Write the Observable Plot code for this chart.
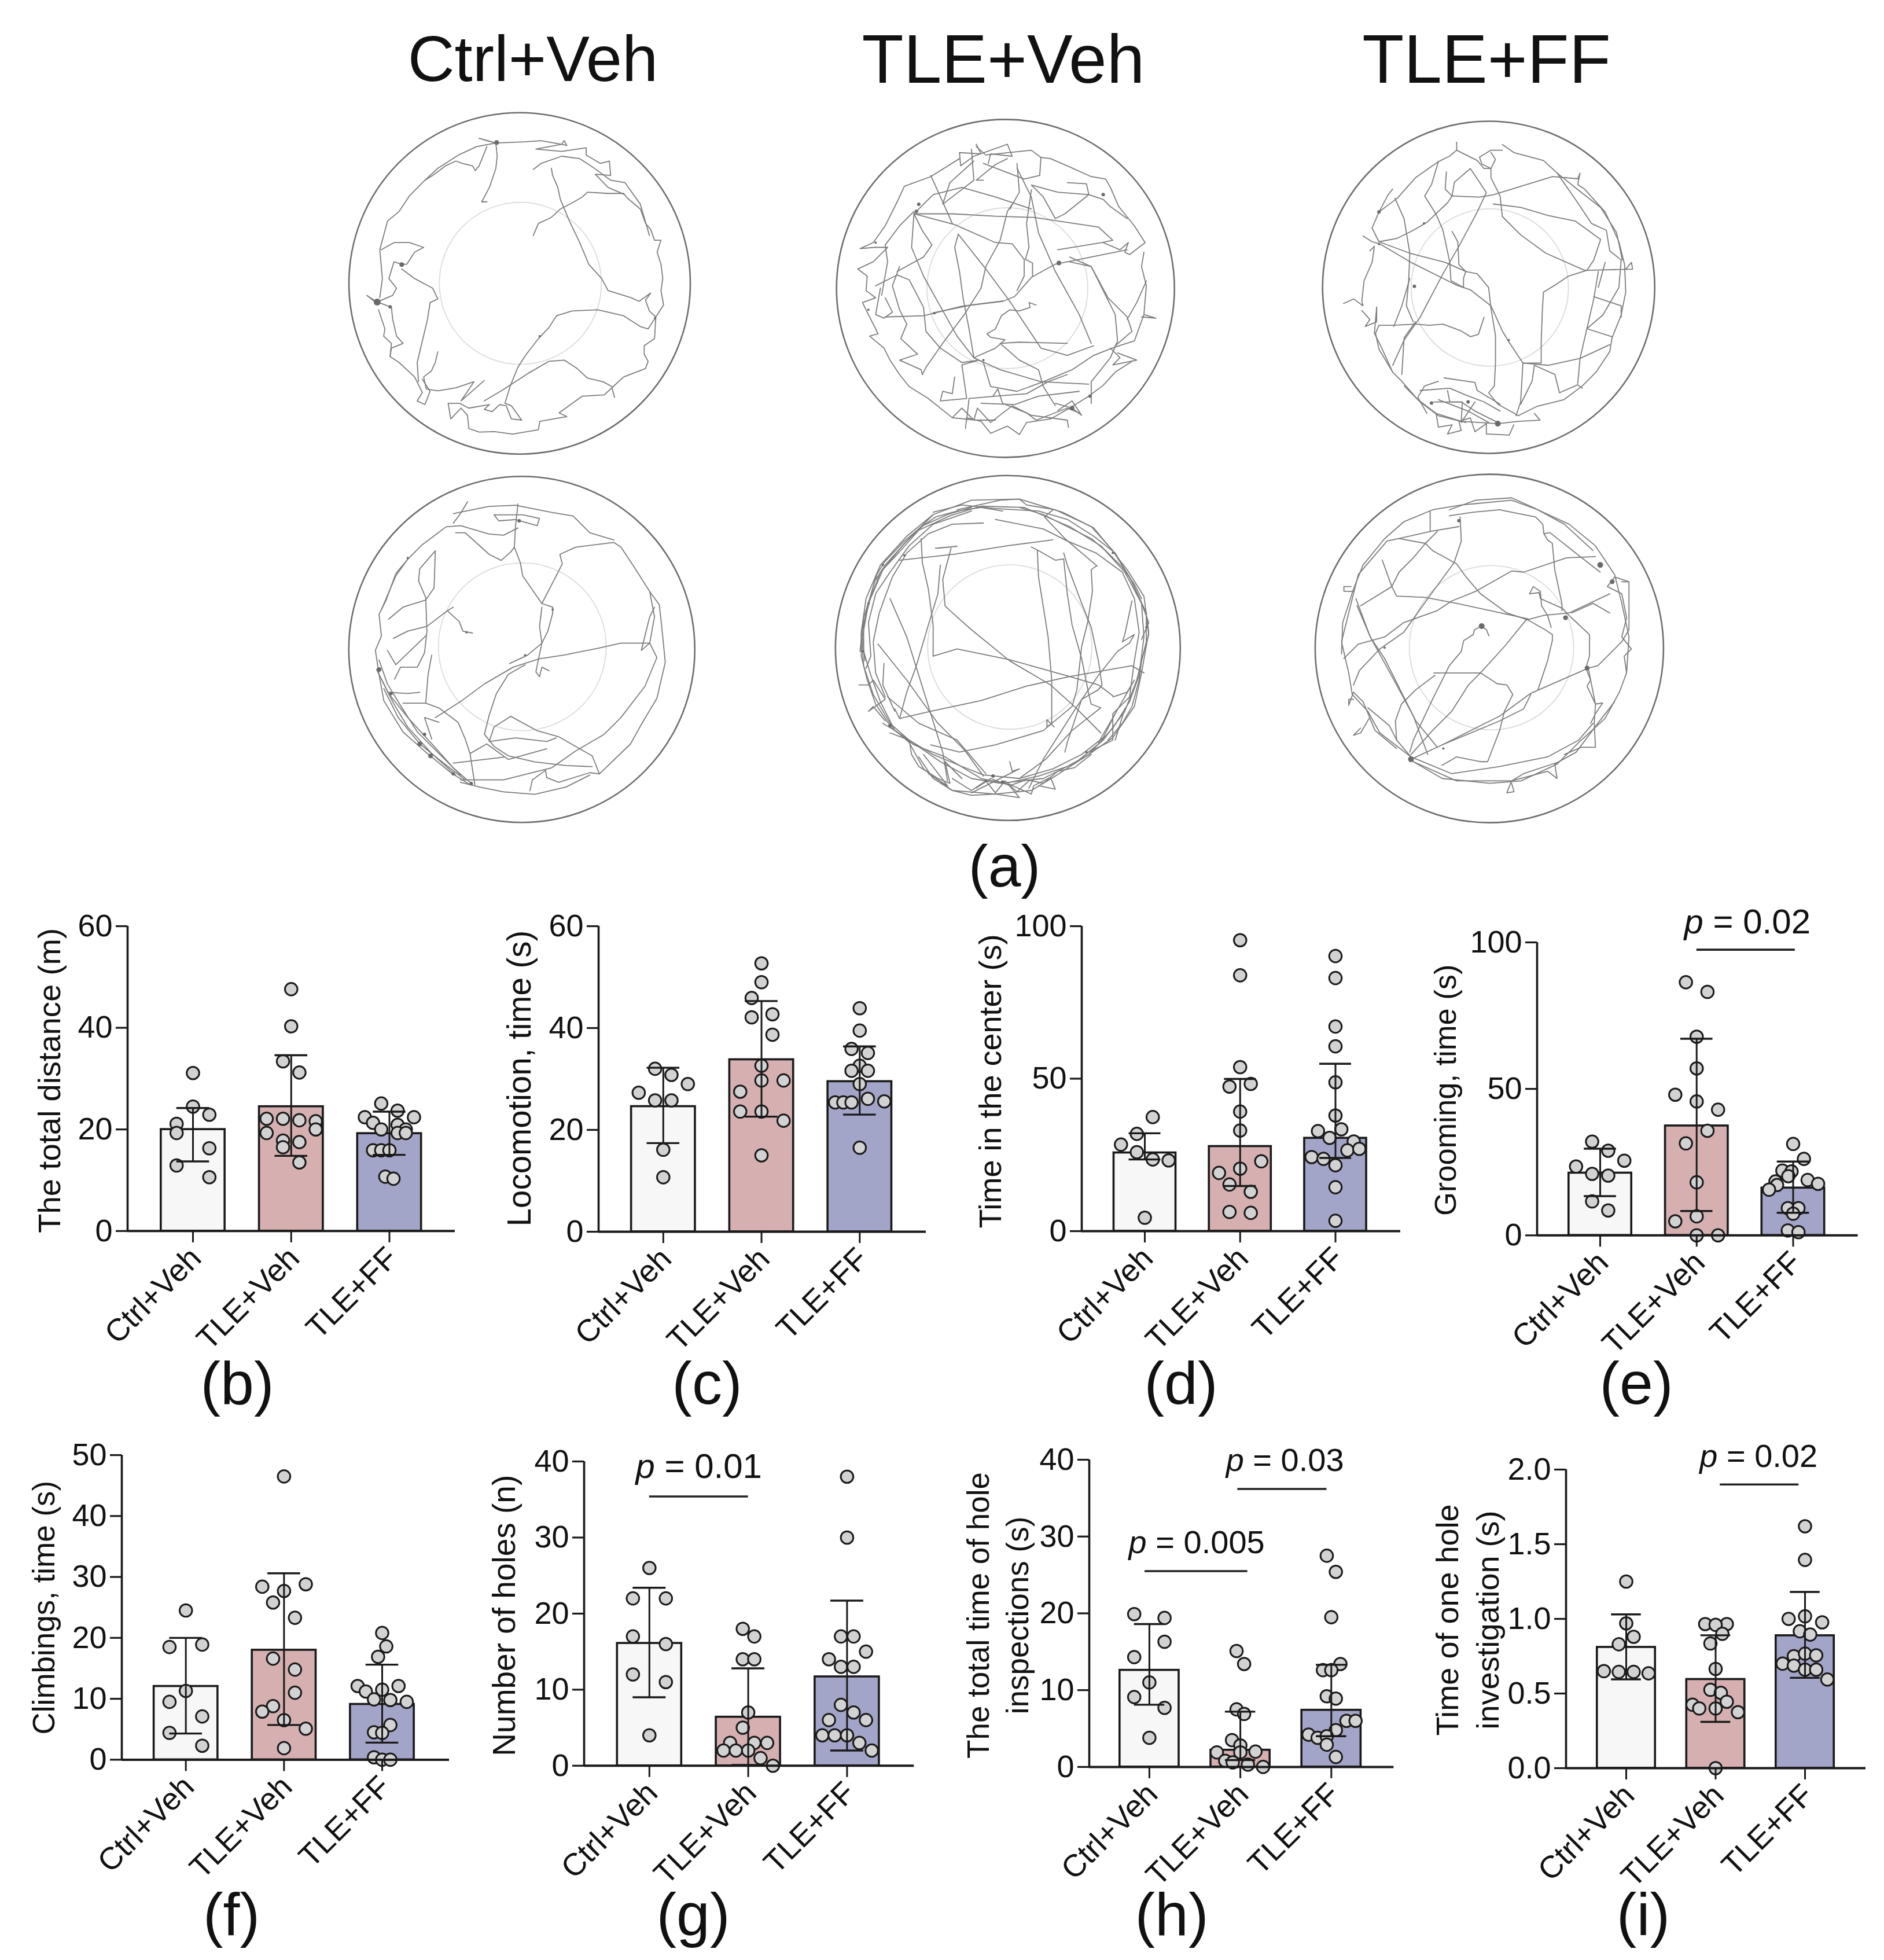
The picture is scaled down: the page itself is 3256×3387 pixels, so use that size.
<!DOCTYPE html>
<html><head><meta charset="utf-8">
<script src="https://cdn.jsdelivr.net/npm/d3@7"></script>
<script src="https://cdn.jsdelivr.net/npm/@observablehq/plot@0.6"></script>
<style>
html,body{margin:0;padding:0;background:#fff}
#fig{position:relative;width:3256px;height:3387px;overflow:hidden;font-family:"Liberation Sans",Arial,sans-serif;color:#111}
.t{position:absolute;transform:translate(-50%,-50%);white-space:nowrap;line-height:1}
</style></head><body><div id="fig"></div>
<script>
const groups = ["Ctrl+Veh","TLE+Veh","TLE+FF"];
const colors = ["#f7f7f7","#d6b0b0","#a3a5c8"];

// values: [swarm slot, value]
const bCtrl=[[0,31.1],[0,24.5],[1,22.9],[-1,21.1],[-1,19.3],[1,16.3],[-1,12.9],[1,10.6]];
const bVeh=[[0,47.6],[0,40.3],[-.5,33.4],[.5,31.2],[-1.5,22.1],[-.5,22.1],[.5,21.8],[1.5,21.6],[1.5,20],[-1.5,19.3],[-.5,17.8],[.5,17.5],[-.5,16.5],[.5,13.5]];
const bFF=[[-.5,25.1],[.5,23.7],[-1.5,22.4],[1.5,22.4],[-1,21.3],[.5,20.9],[-.5,20],[1,20],[.5,19.3],[1,19.3],[-1,15.9],[-.5,15.9],[0,15.9],[-.25,10.7],[.25,10.3]];
const bMean=[20,24.5,19.2], bHi=[24.2,34.6,23.5], bLo=[13.7,14.8,15];

const cCtrl=[[-.5,32],[.5,30.8],[1.5,29],[-1.5,27.3],[-.5,25.8],[.5,25.8],[0,16.1],[0,10.7]];
const cVeh=[[0,52.7],[0,49],[-.6,45.9],[-.6,42.1],[.67,42.7],[.67,38.7],[0,32.6],[0,29.7],[1.35,29.7],[-1.3,27.5],[-1.3,23.6],[0,23.6],[1.35,21.8],[0,15]];
const cFF=[[0,43.9],[0,39.5],[-.5,35.9],[.5,35.1],[0,32.6],[-.5,31.6],[.5,31.6],[0,29],[-1.5,25.4],[-1,25.4],[-.5,25.4],[.5,26.1],[1.5,25.6],[0,16.5]];
const cMean=[24.6,33.8,29.5], cHi=[32.2,45.3,36.4], cLo=[17.4,22.6,23];

const dCtrl=[[.5,37.4],[-.5,31.9],[-1.5,28.4],[-.5,25.9],[.5,23.5],[1.5,23.2],[0,4.4]];
const dVeh=[[0,95.4],[0,83.9],[0,53.8],[.67,48.3],[-.67,47.4],[0,39.2],[0,33],[1.33,22.9],[0,20.5],[-1.33,19.1],[-.67,15.3],[.67,12.9],[-.67,6.3],[.67,6]];
const dFF=[[0,90.2],[0,83],[0,67.1],[0,60.6],[0,48.8],[0,37.9],[.37,33.4],[-1.1,32.8],[-.37,30.6],[1.15,29.4],[.75,26.5],[1.5,27],[-1.5,24.3],[-.75,23.7],[0,21.6],[0,14.4],[0,3.4]];
const dMean=[25.7,27.8,30.5], dHi=[32.1,49.9,54.9], dLo=[23.5,14.8,24];

const eCtrl=[[-.5,32],[.5,28.9],[1.5,25.5],[-1.5,23.5],[-.5,21],[.5,20.4],[-.5,11.6],[.5,8.5]];
const eVeh=[[-.67,86.4],[.67,83.1],[0,67.8],[0,57],[-1.33,48],[0,45.7],[1.33,42.9],[.67,35.7],[-.67,31.4],[0,18.1],[-1.33,4.8],[0,6.5],[0,0],[1.33,0]];
const eFF=[[0,31.2],[.67,26.1],[-.67,22.1],[-.1,21.8],[-.3,20.2],[.9,18.9],[-1.1,18.4],[1.55,17.6],[-1,17.2],[-1.5,15.6],[-.33,9.3],[.33,9.3],[0,7.4],[-.33,1.7],[.33,1.1]];
const eMean=[21.3,37.4,16.2], eHi=[29.6,67.1,25.2], eLo=[13.4,8.3,7.7];

const fCtrl=[[0,24.5],[-1,18.5],[1,18.9],[0,11.3],[-1,9.5],[1,7.1],[-1,4.4],[1,2.3]];
const fVeh=[[0,46.5],[1.33,28.8],[-1.33,28.4],[0,27.7],[-.67,25.8],[.67,23.3],[-.67,16.6],[.67,14.8],[.67,11],[-.67,8.8],[-1.33,7.9],[0,6.5],[1.33,5.1],[0,1.9]];
const fFF=[[0,20.8],[.25,18.6],[-.25,16.9],[-1.5,12.1],[1,12.1],[-1,11.2],[0,11.5],[-.5,9.9],[.5,9.8],[1.5,9.5],[.5,5.7],[-.5,4.5],[0,4.4],[-.5,.4],[0,0],[.5,0]];
const fMean=[12.05,18,9.1], fHi=[20,30.6,15.6], fLo=[4.3,5.7,2.8];

const gCtrl=[[0,26],[-1,22],[1,22],[-1,17],[1,16],[-1,12],[1,11],[0,4]];
const gVeh=[[-.33,18],[.37,17],[-.33,14],[.37,14],[0,7],[-.33,5],[-1.1,3],[.37,3],[1.15,3],[-1.5,2],[-.75,2],[0,2],[.75,1],[1.5,0]];
const gFF=[[0,38],[0,30],[-.37,17],[.4,17],[1.15,15],[-1.1,14],[-.37,13],[.4,13],[-.37,8],[.4,7],[-1.1,6],[1.15,6],[-1.5,4],[-.75,4],[0,4],[.75,3],[1.5,2]];
const gMean=[16.1,6.4,11.7], gHi=[23.4,12.8,21.7], gLo=[9,.1,2];

const hCtrl=[[-1,19.9],[1,19.4],[1,16.3],[-1,14.3],[0,11],[-1,9.1],[1,7.7],[0,3.8]];
const hVeh=[[-.25,15.1],[.25,13.4],[-.25,7.5],[.25,6.9],[-.55,3.5],[0,2.8],[-1.55,1.9],[1,2],[0,1.9],[-1,.8],[-.5,.6],[.5,.3],[1.5,0]];
const hFF=[[-.3,27.5],[.3,25.4],[0,19.5],[.6,13.4],[-.55,12.6],[0,12.6],[-.3,9.2],[.3,8.9],[1,6],[1.6,6],[.3,4.8],[-1.5,4.2],[-.9,3.8],[-.3,4],[-.3,2.9],[.3,1.3]];
const hMean=[12.6,2.2,7.4], hHi=[18.6,7.2,13.3], hLo=[8.1,.9,4];

const iCtrl=[[0,1.25],[0,.97],[.5,.88],[-.5,.83],[-1.5,.65],[-.5,.645],[.5,.645],[1.5,.635]];
const iVeh=[[-.7,.965],[.75,.965],[0,.96],[.45,.9],[-.35,.835],[0,.665],[-.35,.525],[.35,.505],[.75,.445],[-1.55,.425],[-1.1,.4],[0,.4],[1.5,.375],[0,0]];
const iFF=[[0,1.62],[0,1.395],[-1.1,1],[0,1.017],[1.15,.977],[-.35,.917],[.35,.895],[-.75,.75],[0,.767],[.75,.756],[-1.5,.7],[-.75,.687],[0,.66],[.75,.66],[1.5,.594]];
const iMean=[.81,.595,.888], iHi=[1.03,.89,1.18], iLo=[.595,.31,.605];

// traced open-field tracks, in picture units of each arena crop
const track1=["810,570 830,520 880,495 915,460 960,435 1000,410 1020,390 1100,395 1160,395 1175,415 1225,460 1245,520 1265,545 1280,590 1305,590 1290,640 1305,690 1312,750 1305,800 1315,860 1285,910 1255,960 1225,950 1160,905 1060,880 960,885 900,905 870,955 830,1000 780,1070 750,1120 720,1200 700,1270 725,1280 765,1340 725,1335 705,1280 680,1275 650,1305 620,1295 640,1275 560,1290 525,1270 480,1270 490,1335 530,1290 555,1320 560,1375 600,1390 660,1388 730,1398 830,1380 835,1345 940,1325 910,1310 1000,1240 1085,1235 1115,1205 1125,1245 1115,1205 1160,1160 1245,1125 1255,1095 1240,1065 1240,1030 1280,1000 1285,910",
"810,295 840,270 920,240 990,250 1040,285 1110,340 1165,350 1225,440 1260,570",
"880,290 885,320 905,370 915,420 950,510 990,600 1025,690 1075,750 1100,800 1190,830 1220,845 1265,810 1245,840 1260,885 1285,910",
"630,430 610,430 640,370 665,290 670,240 665,185 600,165 630,175 665,185 590,200 520,235 440,290 390,340 330,405 290,470 245,510 225,590 215,630 225,750 215,830",
"630,200 600,280 585,300 575,280 535,270 510,260 470,280 420,320 390,340",
"665,185 775,180 840,175 920,190 930,175 940,195 920,190 820,210 920,220 1015,205 1015,235 1070,270 1105,260 1110,320 1050,315 1100,370 1165,400",
"220,630 270,600 330,600 385,620 350,640 320,690 300,690 270,680 250,750 280,790 265,820 200,850 165,820 200,845 260,870 265,920 280,990 305,1020 260,1040 255,1075 290,1100 350,1160 380,1225 360,1260 390,1275 410,1220 380,1170",
"210,880 235,960 230,990 260,1020 255,1075",
"440,1055 430,1100 415,1135 385,1160 395,1210 440,1218 510,1205 580,1180 530,1260 620,1175",
"300,710 350,750 420,790 440,835 410,850 400,920 380,1010 360,1100 365,1180",
"620,1260 690,1215 790,1145 870,1095 930,1090 980,1125 1020,1165 1080,1180 1115,1200"];
const blobs1=[[205,848,6],[255,868,3],[300,692,4],[668,183,4],[835,990,2],[1282,915,2]];

const track2=["870,860 840,850 845,870 800,885 760,880 725,905 700,960 665,980 680,995 740,1005 700,1040 610,1080 650,1100",
"440,895 560,865 730,845 780,825 850,745 950,690 1250,630","440,893 600,860 735,843",
"545,565 530,620 550,720 565,830 590,960 610,1080",
"545,565 660,710 760,845 890,1040 1000,1070 1110,1030",
"360,480 520,480 700,490 860,495 1130,535 1190,590 1145,600 960,630",
"360,480 530,525 700,600 770,605 820,670 820,740 790,800",
"770,440 750,470 720,590 660,700 640,790 570,900 480,1020 410,1120 395,1150",
"790,270 800,390 760,460",
"790,290 850,410 880,560 950,720 1050,900 1100,1020",
"850,380 830,520 840,620 825,670 855,685 855,740",
"890,245 930,250 1000,280 1100,325 1160,335 1180,370 1215,450 1280,530 1325,600 1260,650 1240,640 1255,600 1220,630 1150,600",
"1000,350 1080,355 1090,400 990,480 950,500 900,410 850,360 960,390 1090,400 1150,420",
"620,200 660,235 850,215 890,245 885,320 820,335 650,270",
"550,250 430,325 320,365 290,430 240,530 190,600 135,625 195,620 250,620 190,680 125,710 165,740 160,800 200,830 145,850 180,920 210,980 175,990 235,1040 260,1090 300,1150 340,1200 420,1250 520,1330 620,1340 700,1340",
"575,1375 580,1330 640,1345 680,1395 750,1365 800,1400 830,1350 930,1335 1010,1290 1090,1240 1150,1195 1200,1140 1270,1095",
"290,720 400,660 435,610 395,550 360,480 350,620 400,740 450,830 540,990 610,1080 720,1130 890,1180 1090,1190",
"300,700 270,780 300,880 330,940 305,1000 375,1065 300,1090 390,1130 395,1150",
"200,780 290,735 340,755 400,870 410,970 470,1040 560,1100 630,1090 560,1110 580,1250 470,1260 480,1220 520,1230 530,1160",
"1000,1020 800,1015 720,1020 800,1090 880,1130 900,1200 950,1280",
"650,1100 680,1200 790,1220 900,1180 1020,1130 1110,1070 1200,1035 1280,1010 1320,900 1330,780 1310,700 1320,640",
"1010,680 1100,700 1170,830 1250,910 1270,970 1200,1030",
"1010,660 1100,700 1200,900 1210,1010 1180,1080 1100,1180 1100,1270",
"1330,760 1290,850 1250,920","1310,910 1370,915 1320,900","240,910 400,905 440,895",
"220,790 200,900 235,915 270,890 240,830",
"580,1340 590,1250 700,1240 830,1230 920,1180 1000,1150",
"690,1240 710,1210 730,1270 830,1310 870,1340 1000,1290 1050,1310",
"640,1270 780,1275 880,1240 1050,1220","600,210 610,340 480,440 510,350 610,260",
"360,470 300,530 240,610 250,680 225,820","430,320 480,430 520,520",
"360,480 440,400 560,370 700,410 850,460","650,340 620,340 650,315 700,275 750,250","1150,420 1180,450 1250,500",
"620,190 640,230 550,225 555,280 610,240 750,190 770,240 680,230 670,270",
"520,1330 560,1290 610,1340 625,1290 680,1350 770,1280 850,1320 1000,1340 1005,1370",
"950,1270 1020,1290 1060,1320 1020,1260 960,1300","1180,1040 1220,1080 1190,1110 1290,1090 1210,1060"];
const blobs2=[[380,440,3],[370,470,3],[200,600,2],[965,685,4],[445,895,2],[650,1090,2],[1020,1290,4],[1095,1240,3],[1150,400,3],[170,880,2]];

const track3=["720,930 695,1005 660,1015 620,990 540,960 480,965 420,960 320,965 260,965 245,1000 260,1070 320,1170 360,1210 430,1290 510,1350 620,1385 780,1395",
"600,165 600,200 690,245 720,280 750,280 750,320 790,400 800,490 880,570 990,650 1160,725 1370,720 1365,690 1340,720",
"600,200 570,225 520,250 420,320 340,410 260,470 230,540 260,600 395,650 550,690 640,730 690,740 740,800 750,890 770,1010 770,1130 765,1230 740,1260 780,1310 870,1360",
"190,575 230,600 265,610 400,690 540,760 600,790 660,810 750,880 800,990 830,1040 890,1130 880,1300 860,1360",
"260,600 340,585 410,550 470,515 560,430 580,400 700,405 760,395 1020,315 1130,325 1140,300 1130,350 1160,370 1250,470 1310,600 1335,700 1340,820 1320,920 1280,1020 1270,1080 1210,1170 1150,1230 1070,1290 950,1320 870,1360",
"555,295 550,370 580,400 590,340 660,280 730,385 690,470 610,620 540,740 440,930 370,1030 320,1140",
"320,370 300,395 260,470","330,410 370,500 395,650 390,770 380,880 410,950",
"520,250 490,350 460,400 510,480 540,550 570,690 575,770 630,800 630,760 640,730 610,700 605,600 580,555",
"220,640 240,620 230,690 195,770 185,860 190,880 150,850 105,870","395,760 360,880 325,970","420,950 370,1020 360,1180",
"760,435 880,450 1000,485 1120,510 1230,590 1200,680 1170,725 1090,750 1030,790 980,820 975,900 970,1040 970,1130 890,1130",
"890,1130 1000,1140 1140,1110 1270,1050","940,1140 930,1210 880,1310","940,1140 1030,1180 1050,1260 1130,1225 1150,1240",
"1040,300 1130,430 1190,520 1255,550 1270,640 1320,680 1310,800 1240,920 1170,980 1140,1110 1130,1220",
"1220,730 1200,850 1170,980 1280,1015","1200,840 1320,880 1320,930","1250,690 1220,800",
"800,175 850,210 980,245 1040,300","800,200 750,200 700,230 710,260 750,280 770,240 750,210",
"545,1195 680,1215 690,1250 790,1310","520,1210 460,1230 430,1280 470,1350","440,1250 570,1240 640,1270 720,1300 790,1340",
"500,1300 620,1300 680,1340 770,1385",
"510,1350 520,1410 580,1400 560,1440 620,1425 610,1385 660,1370 680,1430 730,1395 730,1440 830,1445 850,1400",
"780,1395 870,1385 965,1380 940,1350","520,1290 650,1340 740,1390",
"185,900 220,940 200,970 250,950 250,885 240,1000 270,1060 320,1170",
"1040,300 1140,380 1230,450 1300,560 1325,680","370,1230 440,1300 520,1360 640,1390","560,1250 570,1300 625,1300 620,1390 680,1300"];
const blobs3=[[780,1395,5],[650,1300,3],[415,795,3],[828,1030,2],[260,470,3],[260,610,2],[457,520,2],[490,1305,3]];

const track4=["570,708 530,700 515,660 465,615 490,600 465,615 380,680 300,700 240,730",
"905,625 905,600 860,585 780,470 770,415 745,350 750,260 760,170",
"860,585 945,420 935,380 1000,350 1160,330 1190,350 1250,440 1310,535 1330,640 1310,750 1190,750 1090,772 950,800 850,815 740,850 620,920 525,990 440,1045 415,1060",
"905,625 885,700 860,750 800,800 725,835","860,600 850,680 860,750 845,820 835,870 850,890 860,850 890,865",
"790,840 720,880 670,960 640,1050 620,1130 660,1180 720,1220 830,1245 960,1260 1070,1265",
"640,1160 660,1100 730,1055 840,1115 930,1140 1070,1220 1100,1295","640,1160 750,1145 880,1160 920,1145",
"560,1210 630,1170 720,1235 880,1190","490,1250 620,1235 700,1225",
"520,1320 700,1320 900,1270 1000,1200 1120,1130 1190,1060 1290,930 1340,810 1310,750 1275,780 1310,640 1330,600",
"875,1280 880,1310 930,1330 1060,1290 1100,1295 1230,1170 1280,1080 1340,980 1375,830 1360,680 1350,590 1310,535",
"810,1365 820,1320 875,1280","520,1330 600,1350 700,1370 830,1380 960,1350 1060,1300",
"660,215 680,240 750,235 840,260 850,230 780,215 660,215","490,210 540,200 640,180 750,175 900,205 990,220 1060,290 1160,320",
"760,270 700,300 640,295 520,260 460,265 360,340 300,400 250,460 210,570 180,630 190,720 165,780 180,880 200,990 280,1120 370,1200 480,1290 560,1340",
"500,290 540,290 640,380 690,405 730,370 745,350","415,365 410,520 375,570 280,600 220,650",
"415,365 350,440 345,490 375,560 380,700 370,790 340,850 270,850 245,900","375,720 250,840 215,780",
"400,800 385,880 375,1000 430,1020 510,1080 540,1150 560,1210 580,1340","220,955 300,960 350,955","280,1000 375,1000","430,1080 370,1060 400,1150",
"190,900 240,1000 300,1100 400,1210 500,1300","170,860 220,960 300,1060 410,1180 490,1270 560,1330","190,610 250,470 300,400","550,160 520,210 490,250",
"180,820 215,920 270,1010 340,1120 430,1210 520,1300","200,940 260,1060 350,1170 450,1250 540,1320"];
const blobs4=[[180,860,4],[230,960,3],[300,395,2],[370,1130,3],[350,1170,4],[395,1220,4],[490,1295,3],[565,1335,3],[765,240,3],[905,610,2],[545,705,2],[790,800,2]];

const track5=["800,125 600,130 440,190 330,280 220,400 160,540 140,680 140,780 165,880 200,980 260,1070 340,1140 400,1250 520,1340 700,1355 850,1340 950,1280 1090,1190 1190,1120 1280,990 1310,850 1340,680 1320,530 1250,420 1180,330 1110,245 980,180 800,125",
"820,160 640,155 510,195 380,255 300,345 220,430 170,560 150,650 150,760 180,860 220,970 280,1090 360,1150 490,1200 640,1290 740,1310 880,1280 1000,1240 1090,1190 1190,1080 1260,970 1300,860 1320,700 1310,560 1240,430 1140,320 1010,240 820,160",
"650,225 520,230 420,270 330,350 270,450 215,600 190,720 200,850 240,950",
"700,210 900,250 1000,300 1120,350 1230,430 1280,540 1300,680 1280,800 1260,950 1190,1020 1190,1130 1090,1180",
"540,170 720,130 800,125 830,150 950,170 1100,240 1190,340 1260,450 1310,560 1340,640 1310,710",
"380,1200 440,1290 520,1340 600,1360 700,1355 800,1370 750,1310 850,1355 860,1320 930,1285 950,1335 880,1320",
"260,1100 340,1130 440,1190 560,1240 650,1275 800,1290 940,1250 1060,1190 1150,1120 1200,1020",
"130,900 170,900 190,880 240,960 170,1010 190,990 240,1050",
"440,180 560,150 700,165 880,175 1000,210 1110,280 1200,350 1270,470 1330,600 1330,720 1290,880 1240,1010 1150,1130 1040,1220 900,1290 720,1310 600,1290 470,1220 340,1130 260,1060 190,940 150,820 140,690 170,560 230,420 320,310 440,190",
"135,760 150,620 175,540 205,440 235,390 320,300 385,245 450,200 540,175 640,160 730,175",
"155,800 145,700 165,590 195,470 240,400 330,300 400,235 500,190 600,160",
"160,830 180,780 170,640 200,520 260,430 340,320 440,230 600,175",
"620,1330 680,1290 760,1320 830,1295 900,1310 960,1260 1030,1245 1100,1190",
"520,1290 600,1340 660,1300 700,1350 740,1300 790,1345 840,1300",
"1330,620 1340,690 1310,800 1300,880 1270,990 1230,1060 1170,1130",
"1310,540 1280,480 1230,410 1160,340 1100,290 1000,240 900,190 800,160",
"230,1060 280,1090 340,1130 350,1190 380,1240 460,1290 510,1310 490,1220 560,1290",
"440,780 540,750 760,795 1010,865 1130,900 1190,945",
"515,330 480,460 490,570 510,590 600,670 760,800 930,900 1030,990 1140,1100",
"875,340 880,450 920,700 935,880 935,1060 915,1075 915,1045 945,1075",
"850,325 880,340 950,380 985,375 1000,520 1020,650 1060,790 1090,940 1100,980 1140,995 1020,1090 910,1210 800,1290",
"985,350 1000,400 1060,560 1100,660 1130,800 1145,900 1130,920 1060,960 1000,1140 990,1180",
"1120,405 1100,420 1105,510 1085,640 1060,740 1050,830 1040,920 1020,990 900,1090 700,1150 550,1180 430,1150",
"300,1040 430,1010 640,965 830,905 1010,865 1270,820 1320,850","440,780 440,650 420,500 395,390 390,290",
"300,380 530,355 750,320 940,295","460,330 540,322 450,330",
"470,400 460,520 420,650 370,820 330,930 300,1040 280,1000","260,540 330,700 430,1020 480,1180 500,1300",
"210,730 330,880 460,1060 570,1170 650,1280","235,810 230,900 280,1010","250,950 380,1060 540,1130 660,1270",
"1125,405 990,290 905,200 940,170","1190,950 1250,930 1280,880 1240,950 1200,1020 1130,1140","1200,1130 1240,1000",
"1270,550 1240,690 1230,720 1280,690 1260,725 1210,760 1130,860 1040,990 900,1210 840,1330",
"760,1220 770,1260 800,1250 600,1350","400,1190 500,1320 420,1270"];
const blobs5=[[230,400,2],[170,560,2],[145,760,2],[260,1070,3],[690,1280,3],[730,1305,3],[1080,1180,2],[320,360,2],[1190,350,2],[1330,660,2],[660,1300,2]];

const track6=["755,695 745,670 725,655 695,670 690,690 650,715 640,760 590,820 560,880 520,960 440,1130 425,1180",
"1015,660 1000,610 975,570 970,510 940,490 925,520 965,515 970,540 1060,580 1100,620 1175,690 1175,780 1160,830 1180,880 1165,905 1200,980 1195,1060 1200,1160 1140,1160 1070,1190",
"525,850 640,850 720,850 790,895 830,900 855,940 820,1010 800,1090 750,1220 720,1220 620,1200 560,1235",
"1260,520 1090,600 985,610 910,630 820,740 720,850 670,900 600,1010 520,1090 430,1190",
"1020,715 1020,690 990,670 920,630 830,600 720,520 660,450 620,395 520,340 490,310 380,290",
"430,1210 560,1150 800,1030 930,935 1170,830 1210,820 1310,720 1340,670 1340,470 1310,470",
"960,920 1000,800 1020,715","930,940 900,1000 800,1050 560,1150",
"635,200 640,300 610,390 500,540 400,680 300,750 215,840 190,900","510,175 510,260 630,240",
"510,260 380,290 330,300 210,440 170,600 140,720 170,850 185,940 250,1010 300,1100 430,1200",
"540,260 490,310 440,370 380,430 350,490 220,570","310,380 350,490 370,530 490,535 620,560 760,590 920,625",
"205,570 260,700 320,790 400,950 450,1050 540,1160","200,540 260,700 370,900 440,1030 500,1190",
"150,790 210,730 320,700 400,640 540,590 600,550 700,510 850,425 900,430 1080,370 1200,365",
"985,270 1000,295 1020,310 1030,420 1060,560 1060,590",
"1220,430 1130,360 1010,265 985,270 980,230 950,200 850,180 800,170 690,180 590,195",
"520,170 640,150 850,130 960,170 1090,230 1200,320 1280,440 1310,560 1340,700 1330,850 1300,930 1240,1040 1130,1140 1040,1230 890,1300 760,1310 560,1290 440,1220",
"590,170 700,130 850,120 950,165 1070,230 1190,340","520,170 400,220 320,290 230,400 190,500 145,640 140,770",
"180,490 150,490 150,510 190,510","190,960 170,960 170,985 190,930 230,970 280,1090 370,1165","220,1080 190,1110 220,1100 255,1040",
"250,995 340,1070 370,1130 430,1200","370,1130 365,1050 390,980 450,920 530,860","430,1200 600,1270 800,1240 1000,1200 1130,1130 1190,1060",
"440,1220 620,1300 850,1300 1000,1260 1040,1290 1030,1230 1120,1180 1210,1060 1280,970","850,1310 860,1345 830,1350 850,1300 900,1270 1050,1220",
"1260,600 1190,560 1100,600","1340,470 1280,450 1250,490 1310,520 1330,620 1310,700 1350,750 1320,780 1330,850","1170,830 1200,980 1230,975 1200,1020 1180,1060"];
const blobs6=[[725,655,5],[1220,400,5],[1270,470,4],[1075,620,4],[1165,830,4],[430,1210,5],[565,1165,2],[630,215,3],[320,745,2]];

// layout
const fig=document.getElementById("fig");
function label(txt,x,y,size){const d=document.createElement("div");d.className="t";d.textContent=txt;d.style.left=x+"px";d.style.top=y+"px";d.style.fontSize=size+"px";fig.appendChild(d);}
function place(svg,l,t){svg.style.position="absolute";svg.style.left=l+"px";svg.style.top=t+"px";fig.appendChild(svg);}

const arenas=[
 {t:track1,b:blobs1,l:560,tp:170,w:700,h:650,c:[757,770],rO:295,cI:[760,770],rI:140},
 {t:track2,b:blobs2,l:1430,tp:170,w:650,h:650,c:[742,791],rO:292,cI:[750,790],rI:139},
 {t:track3,b:blobs3,l:2280,tp:180,w:620,h:620,c:[740,799],rO:287,cI:[745,800],rI:136},
 {t:track4,b:blobs4,l:580,tp:800,w:650,h:650,c:[776,776],rO:299,cI:[778,765],rI:145},
 {t:track5,b:blobs5,l:1430,tp:810,w:650,h:650,c:[752,746],rO:298,cI:[760,742],rI:142},
 {t:track6,b:blobs6,l:2260,tp:810,w:650,h:650,c:[757,748],rO:301,cI:[766,745],rI:142}
];
for(const a of arenas){
  const pts=a.t.flatMap((s,k)=>s.split(" ").map(p=>{const [x,y]=p.split(",").map(Number);return {x,y,k};}));
  const svg=Plot.plot({width:a.w,height:a.h,margin:0,
    x:{domain:[0,1570],axis:null},y:{domain:[1568,0],axis:null},r:{type:"identity"},
    style:{background:"transparent",overflow:"visible",filter:"blur(0.6px)"},
    marks:[
      Plot.dot([a.c],{x:"0",y:"1",r:()=>a.rO,stroke:"#6e6e6e",strokeWidth:2.6,fill:"none"}),
      Plot.dot([a.cI],{x:"0",y:"1",r:()=>a.rI,stroke:"#dcdcdc",strokeWidth:1.8,fill:"none"}),
      Plot.line(pts,{x:"x",y:"y",z:"k",stroke:"#7d7d7d",strokeWidth:1.8,curve:"linear"}),
      Plot.dot(a.b,{x:"0",y:"1",r:"2",fill:"#6a6a6a"})
    ]});
  place(svg,a.l,a.tp);
}

label("Ctrl+Veh",921,102,112);label("TLE+Veh",1734,102,118);label("TLE+FF",2569,102,118);
label("(a)",1736,1497,102);

// width of the p-value text in em, Liberation Sans
const emW=s=>[...s].reduce((w,c)=>w+({"=":.584," ":.278,".":.278}[c]??.556),0);

const panels=[
 {id:"(b)",lab:"The total distance (m)",lfs:54.5,s:[bCtrl,bVeh,bFF],m:bMean,hi:bHi,lo:bLo,ticks:[0,20,40,60],top:60,axisX:220,c0:333,c2:672.5,end:786,yT:1600.2,y0:2127,lx:81,ly:1867,lettX:410,lettY:2390},
 {id:"(c)",lab:"Locomotion, time (s)",lfs:56.5,s:[cCtrl,cVeh,cFF],m:cMean,hi:cHi,lo:cLo,ticks:[0,20,40,60],top:60,axisX:1034,c0:1145.8,c2:1485.3,end:1600,yT:1600,y0:2128,lx:893,ly:1863,lettX:1222,lettY:2390},
 {id:"(d)",lab:"Time in the center (s)",lfs:54,s:[dCtrl,dVeh,dFF],m:dMean,hi:dHi,lo:dLo,ticks:[0,50,100],top:100,axisX:1869,c0:1978,c2:2307.5,end:2420,yT:1600,y0:2127,lx:1707,ly:1868,lettX:2041,lettY:2390},
 {id:"(e)",lab:"Grooming, time (s)",lfs:52.5,s:[eCtrl,eVeh,eFF],m:eMean,hi:eHi,lo:eLo,ticks:[0,50,100],top:100,axisX:2656,c0:2765,c2:3098.5,end:3210.6,yT:1627.7,y0:2134,lx:2494,ly:1883,lettX:2828,lettY:2390,
  pfs:60,sig:[{a:1,b:2.02,y:97.5,txt:"= 0.02",tx:1.525,ty:106.8}]},
 {id:"(f)",lab:"Climbings, time (s)",lfs:53,s:[fCtrl,fVeh,fFF],m:fMean,hi:fHi,lo:fLo,ticks:[0,10,20,30,40,50],top:50,axisX:209.5,c0:320.2,c2:659.5,end:775.5,yT:2514.4,y0:3040.8,lx:71,ly:2778,lettX:400,lettY:3308},
 {id:"(g)",lab:"Number of holes (n)",lfs:55,s:[gCtrl,gVeh,gFF],m:gMean,hi:gHi,lo:gLo,ticks:[0,10,20,30,40],top:40,axisX:1009,c0:1121.8,c2:1463.4,end:1579.3,yT:2524.8,y0:3050.6,lx:867,ly:2791,lettX:1198,lettY:3308,
  pfs:60,sig:[{a:0,b:1,y:35.4,txt:"= 0.01",tx:.5,ty:39.3}]},
 {id:"(h)",lab:"The total time of hole\ninspections (s)",lfs:53,s:[hCtrl,hVeh,hFF],m:hMean,hi:hHi,lo:hLo,ticks:[0,10,20,30,40],top:40,axisX:1881.5,c0:1985.4,c2:2299.8,end:2407.8,yT:2522,y0:3052.9,lx:1720,ly:2791,lettX:2025,lettY:3308,
  pfs:56,sig:[{a:-.05,b:1.08,y:25.5,txt:"= 0.005",tx:.52,ty:29.2},{a:.97,b:1.95,y:36.2,txt:"= 0.03",tx:1.49,ty:39.9}]},
 {id:"(i)",lab:"Time of one hole\ninvestigation (s)",lfs:54,s:[iCtrl,iVeh,iFF],m:iMean,hi:iHi,lo:iLo,ticks:[0,.5,1,1.5,2],fmt:".1f",top:2,axisX:2706,c0:2810,c2:3119,end:3224,yT:2539,y0:3055,lx:2532,ly:2799,lettX:2840,lettY:3308,
  pfs:56,sig:[{a:1.05,b:1.93,y:1.9,txt:"= 0.02",tx:1.48,ty:2.085}]}
];

const INK="#1a1a1a", FS=54;
for(const p of panels){
  const mL=260,mT=130,mB=300,mR=40;
  const slot=(p.c2-p.c0)/12;
  const wFrame=p.end-p.axisX,hFrame=p.y0-p.yT;
  const xMin=(p.axisX-p.c0)/slot,xMax=(p.end-p.c0)/slot;
  const bars=p.m.map((v,i)=>({g:i*6,v,hi:p.hi[i],lo:p.lo[i],fill:colors[i]}));
  const dots=p.s.flatMap((arr,i)=>arr.map(([sl,v])=>({x:i*6+sl,v})));
  const sig=p.sig||[];
  const pfs=p.pfs||56;
  const sigMarks=sig.flatMap(d=>{
    const W=pfs*(.834+emW(d.txt));
    return [
      Plot.ruleY([d],{y:"y",x1:e=>e.a*6,x2:e=>e.b*6,stroke:"#222",strokeWidth:3.6}),
      Plot.text([d],{x:e=>e.tx*6,y:"ty",text:()=>"p",dx:-W/2,textAnchor:"start",fontStyle:"italic",fontSize:pfs,fill:"#111"}),
      Plot.text([d],{x:e=>e.tx*6,y:"ty",text:"txt",dx:-W/2+pfs*.834,textAnchor:"start",fontSize:pfs,fill:"#111"})
    ];
  });
  const svg=Plot.plot({width:wFrame+mL+mR,height:hFrame+mT+mB,marginLeft:mL,marginTop:mT,marginBottom:mB,marginRight:mR,
    x:{domain:[xMin,xMax],axis:null},y:{domain:[0,p.top],axis:null},color:{type:"identity"},
    style:{background:"transparent",overflow:"visible",fontFamily:"'Liberation Sans',Arial,sans-serif"},
    marks:[
      Plot.rect(bars,{x1:d=>d.g-1.95,x2:d=>d.g+1.95,y1:0,y2:"v",fill:"fill",stroke:INK,strokeWidth:3.6}),
      Plot.dot(dots,{x:"x",y:"v",r:10.8,fill:"#d2d2d2",stroke:INK,strokeWidth:3}),
      Plot.ruleX(bars,{x:"g",y1:"lo",y2:"hi",stroke:INK,strokeWidth:3}),
      Plot.ruleY(bars,{y:"hi",x1:d=>d.g-1,x2:d=>d.g+1,stroke:INK,strokeWidth:3.4}),
      Plot.ruleY(bars,{y:"lo",x1:d=>d.g-1,x2:d=>d.g+1,stroke:INK,strokeWidth:3.4}),
      Plot.ruleX([xMin],{y1:0,y2:p.top,stroke:INK,strokeWidth:3.6}),
      Plot.ruleY([0],{x1:xMin,x2:xMax,stroke:INK,strokeWidth:4}),
      Plot.axisY({ticks:p.ticks,tickSize:20,tickPadding:6,fontSize:FS,label:null,stroke:INK,strokeWidth:3.2,color:"#111",tickFormat:p.fmt?d3.format(p.fmt):d=>d}),
      Plot.axisX({ticks:[0,6,12],tickSize:20,tickFormat:()=>"",label:null,stroke:INK,strokeWidth:3}),
      Plot.axisX({ticks:[0,6,12],tickSize:0,tickPadding:38,dx:5,fontSize:FS,label:null,color:"#111",tickRotate:-45,tickFormat:d=>groups[d/6]}),
      Plot.text([p.lab],{text:d=>d,frameAnchor:"top-left",dx:p.lx-p.axisX,dy:p.ly-p.yT,rotate:-90,textAnchor:"middle",lineAnchor:"middle",lineHeight:1.29,fontSize:p.lfs,fill:"#111"}),
      ...sigMarks
    ]});
  place(svg,p.axisX-mL,p.yT-mT);
  label(p.id,p.lettX,p.lettY,104);
}
</script></body></html>
